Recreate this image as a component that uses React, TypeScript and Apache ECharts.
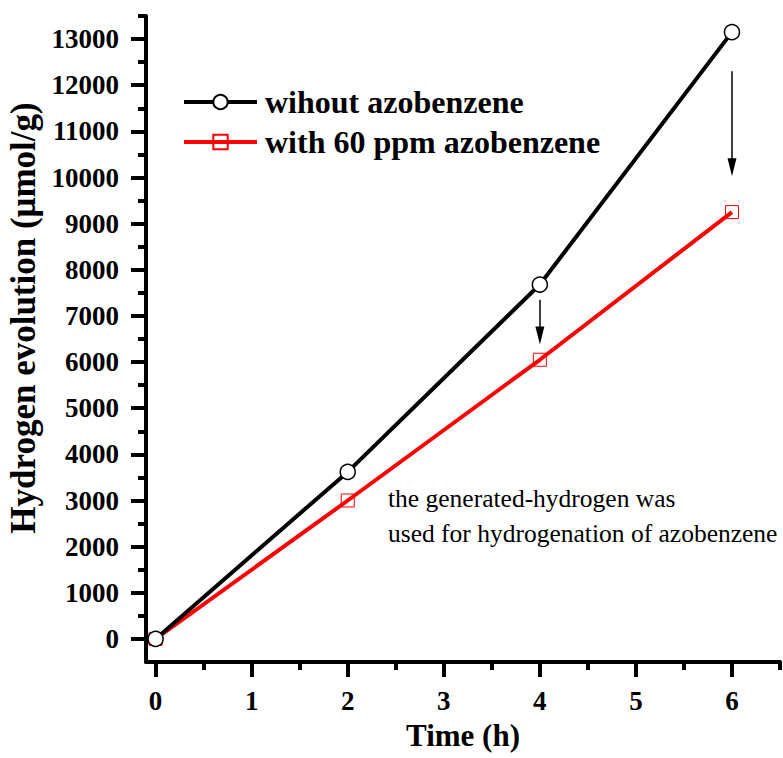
import React, { useEffect, useRef } from "react";
import * as echarts from "echarts";

// Reaction time (h) for each sample point
const timeHours = [0, 2, 4, 6];
// Hydrogen evolved (µmol/g) at each time
const withoutAzobenzene = [0, 3620, 7680, 13150];
const withAzobenzene = [0, 3000, 6050, 9250];

const seriesNames = ["wihout azobenzene", "with 60 ppm azobenzene"];

// Major / minor tick positions
const xMajorTicks = [0, 1, 2, 3, 4, 5, 6];
const xMinorTicks = [0.5, 1.5, 2.5, 3.5, 4.5, 5.5, 6.5];
const yMajorTicks = [0, 1000, 2000, 3000, 4000, 5000, 6000, 7000, 8000, 9000, 10000, 11000, 12000, 13000];
const yMinorTicks = [500, 1500, 2500, 3500, 4500, 5500, 6500, 7500, 8500, 9500, 10500, 11500, 12500, 13500];

// Downward arrows: [time, start value, end value]
const arrows = [
  [4, 7350, 6575],
  [6, 12305, 10221],
];

const noteLines = ["the generated-hydrogen was", "used for hydrogenation of azobenzene"];

const FONT = "Liberation Serif";

export default function App() {
  const ref = useRef<HTMLDivElement>(null);

  useEffect(() => {
    if (!ref.current) return;
    document.body.style.margin = "0";
    const chart = echarts.init(ref.current, undefined, { renderer: "svg" });

    const axisLine = { show: true, onZero: false, lineStyle: { color: "#000", width: 4 } };
    const baseX = { type: "value", min: -0.1, max: 6.5, splitLine: { show: false } };
    const baseY = { type: "value", min: -500, max: 13500, splitLine: { show: false } };
    const plain = (v: number) => String(v);
    const tickFont = { fontFamily: FONT, fontWeight: "bold", fontSize: 27, color: "#000" };

    chart.setOption({
      animation: false,
      backgroundColor: "#fff",
      grid: { left: 146, right: 3, top: 16, bottom: 96, containLabel: false, outerBoundsMode: "none" },
      legend: {
        data: seriesNames,
        orient: "vertical",
        left: 182,
        top: 86,
        padding: 0,
        itemWidth: 73,
        itemHeight: 18,
        itemGap: 8,
        lineStyle: { width: 4 },
        textStyle: { fontFamily: FONT, fontWeight: "bold", fontSize: 32, color: "#000", padding: [0, 0, 0, 3] },
      },
      xAxis: [
        {
          ...baseX,
          position: "bottom",
          axisLine,
          axisTick: { show: true, inside: false, length: 15, customValues: xMajorTicks, lineStyle: { width: 4, color: "#000" } },
          axisLabel: { show: true, customValues: xMajorTicks, formatter: plain, margin: 25, ...tickFont },
          name: "Time (h)",
          nameLocation: "middle",
          nameGap: 58,
          nameTextStyle: { fontFamily: FONT, fontWeight: "bold", fontSize: 31, color: "#000" },
        },
        {
          ...baseX,
          position: "bottom",
          axisLine: { show: false, onZero: false },
          axisTick: { show: true, inside: false, length: 8, customValues: xMinorTicks, lineStyle: { width: 4, color: "#000" } },
          axisLabel: { show: false },
        },
      ],
      yAxis: [
        {
          ...baseY,
          position: "left",
          axisLine,
          axisTick: { show: true, inside: false, length: 15, customValues: yMajorTicks, lineStyle: { width: 4, color: "#000" } },
          axisLabel: { show: true, customValues: yMajorTicks, formatter: plain, margin: 27, ...tickFont },
          name: "Hydrogen evolution (\u03bcmol/g)",
          nameLocation: "middle",
          nameGap: 102,
          nameTextStyle: { fontFamily: FONT, fontWeight: "bold", fontSize: 35, color: "#000", padding: [0, 0, 0, 42] },
        },
        {
          ...baseY,
          position: "left",
          axisLine: { show: false, onZero: false },
          axisTick: { show: true, inside: false, length: 8, customValues: yMinorTicks, lineStyle: { width: 4, color: "#000" } },
          axisLabel: { show: false },
        },
      ],
      graphic: [
        {
          type: "text",
          left: 388,
          top: 481,
          style: {
            text: noteLines.join("\n"),
            fontFamily: FONT,
            fontSize: 25.5,
            lineHeight: 35,
            fill: "#000",
          },
        },
      ],
      series: [
        {
          name: seriesNames[1],
          type: "line",
          xAxisIndex: 0,
          yAxisIndex: 0,
          data: timeHours.map((t, i) => [t, withAzobenzene[i]]),
          symbol: "rect",
          symbolSize: 13,
          showAllSymbol: true,
          lineStyle: { color: "#ff0000", width: 4 },
          itemStyle: { color: "rgba(255,255,255,0)", borderColor: "#ff0000", borderWidth: 1 },
          z: 2,
        },
        {
          name: seriesNames[0],
          type: "line",
          xAxisIndex: 0,
          yAxisIndex: 0,
          data: timeHours.map((t, i) => [t, withoutAzobenzene[i]]),
          symbol: "circle",
          symbolSize: 15,
          showAllSymbol: true,
          lineStyle: { color: "#000", width: 4 },
          itemStyle: { color: "#fff", borderColor: "#000", borderWidth: 1.5 },
          z: 3,
          markLine: {
            silent: true,
            symbol: ["none", "triangle"],
            symbolSize: [9, 18],
            label: { show: false },
            lineStyle: { color: "#000", width: 1.5, type: "solid" },
            data: arrows.map(([x, y0, y1]) => [{ coord: [x, y0] }, { coord: [x, y1] }]),
          },
        },
      ],
    });

    return () => chart.dispose();
  }, []);

  return <div ref={ref} style={{ width: 783, height: 758 }} />;
}
